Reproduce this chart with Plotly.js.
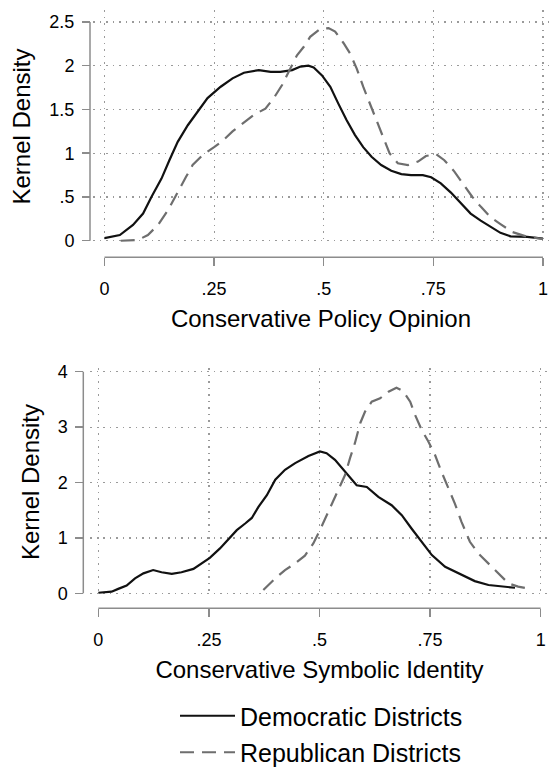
<!DOCTYPE html>
<html>
<head>
<meta charset="utf-8">
<script src="https://cdn.plot.ly/plotly-3.0.1.min.js"></script>
<style>html,body{margin:0;padding:0;background:#fff;}#chart{width:549px;height:767px;}</style>
</head>
<body>
<div id="chart"></div>
<script>
// ---- Data ----
// Top panel: Conservative Policy Opinion
const policyDemX = [0, 0.035, 0.065, 0.088, 0.107, 0.13, 0.148, 0.167, 0.19, 0.2125, 0.235, 0.265, 0.292, 0.318, 0.352, 0.379, 0.401, 0.428, 0.447, 0.465, 0.477, 0.496, 0.515, 0.533, 0.552, 0.571, 0.59, 0.609, 0.631, 0.654, 0.677, 0.699, 0.726, 0.745, 0.767, 0.79, 0.813, 0.835, 0.858, 0.88, 0.903, 0.926, 0.964, 1.0];
const policyDemY = [0.03, 0.065, 0.18, 0.31, 0.50, 0.71, 0.92, 1.13, 1.32, 1.47, 1.63, 1.76, 1.856, 1.92, 1.95, 1.93, 1.93, 1.95, 1.99, 2.0, 1.98, 1.89, 1.76, 1.57, 1.38, 1.21, 1.07, 0.96, 0.865, 0.80, 0.762, 0.75, 0.75, 0.725, 0.656, 0.55, 0.43, 0.31, 0.23, 0.16, 0.09, 0.05, 0.045, 0.025];
const policyRepX = [0.037, 0.077, 0.099, 0.122, 0.145, 0.167, 0.186, 0.201, 0.224, 0.25, 0.269, 0.292, 0.314, 0.341, 0.367, 0.386, 0.405, 0.42, 0.439, 0.455, 0.469, 0.492, 0.511, 0.526, 0.545, 0.56, 0.575, 0.59, 0.605, 0.62, 0.635, 0.65, 0.669, 0.692, 0.715, 0.733, 0.756, 0.775, 0.798, 0.82, 0.839, 0.858, 0.88, 0.903, 0.93, 0.964, 1.0];
const policyRepY = [0.0, 0.01, 0.065, 0.18, 0.35, 0.56, 0.73, 0.865, 0.98, 1.07, 1.14, 1.25, 1.34, 1.44, 1.51, 1.63, 1.78, 1.93, 2.12, 2.22, 2.33, 2.42, 2.43, 2.39, 2.26, 2.14, 1.97, 1.76, 1.57, 1.38, 1.17, 1.0, 0.885, 0.865, 0.905, 0.968, 0.99, 0.92, 0.79, 0.64, 0.50, 0.39, 0.27, 0.19, 0.10, 0.045, 0.02];
// Bottom panel: Conservative Symbolic Identity
const symbolDemX = [0, 0.03, 0.045, 0.064, 0.083, 0.102, 0.124, 0.143, 0.166, 0.188, 0.215, 0.234, 0.252, 0.275, 0.294, 0.313, 0.332, 0.347, 0.362, 0.381, 0.40, 0.422, 0.445, 0.467, 0.475, 0.501, 0.516, 0.535, 0.555, 0.584, 0.607, 0.633, 0.663, 0.686, 0.708, 0.731, 0.754, 0.784, 0.821, 0.851, 0.882, 0.912, 0.942];
const symbolDemY = [0.01, 0.03, 0.08, 0.14, 0.27, 0.36, 0.42, 0.38, 0.35, 0.38, 0.44, 0.54, 0.64, 0.81, 0.98, 1.14, 1.26, 1.36, 1.56, 1.77, 2.05, 2.23, 2.35, 2.44, 2.48, 2.56, 2.53, 2.41, 2.23, 1.95, 1.92, 1.74, 1.59, 1.41, 1.17, 0.93, 0.69, 0.48, 0.34, 0.22, 0.15, 0.12, 0.10];
const symbolRepX = [0.373, 0.40, 0.422, 0.445, 0.467, 0.486, 0.501, 0.52, 0.539, 0.558, 0.569, 0.58, 0.592, 0.603, 0.618, 0.637, 0.656, 0.674, 0.689, 0.705, 0.716, 0.731, 0.746, 0.761, 0.776, 0.791, 0.806, 0.821, 0.84, 0.859, 0.882, 0.904, 0.927, 0.949, 0.976];
const symbolRepY = [0.06, 0.27, 0.42, 0.54, 0.68, 0.90, 1.14, 1.47, 1.80, 2.14, 2.44, 2.71, 3.07, 3.28, 3.46, 3.52, 3.64, 3.71, 3.65, 3.46, 3.22, 2.95, 2.74, 2.50, 2.19, 1.92, 1.62, 1.29, 0.93, 0.72, 0.54, 0.36, 0.18, 0.12, 0.08];

const xTickVals = [0, 0.25, 0.5, 0.75, 1];
const xTickText = ["0", ".25", ".5", ".75", "1"];
const y1TickVals = [0, 0.5, 1, 1.5, 2, 2.5];
const y1TickText = ["0", ".5", "1", "1.5", "2", "2.5"];
const y2TickVals = [0, 1, 2, 3, 4];
const y2TickText = ["0", "1", "2", "3", "4"];
const seriesNames = ["Democratic Districts", "Republican Districts"];
const xTitles = ["Conservative Policy Opinion", "Conservative Symbolic Identity"];
const yTitle = "Kernel Density";

// ---- Styling ----
const W = 549, H = 767;
const FONT = "Liberation Sans, Arial, sans-serif";
const AX = "#8c8c8c";
const demLine = {color: "#111111", width: 2.2};
const repLine = {color: "#6e6e6e", width: 2.2, dash: "14px,8px"};

const px = v => v / W;
const py = v => 1 - v / H;

const traces = [
  {x: policyDemX, y: policyDemY, xaxis: "x", yaxis: "y", mode: "lines", name: seriesNames[0], legendgroup: "d", line: demLine, hoverinfo: "skip"},
  {x: policyRepX, y: policyRepY, xaxis: "x", yaxis: "y", mode: "lines", name: seriesNames[1], legendgroup: "r", line: repLine, hoverinfo: "skip"},
  {x: symbolDemX, y: symbolDemY, xaxis: "x2", yaxis: "y2", mode: "lines", name: seriesNames[0], legendgroup: "d", showlegend: false, line: demLine, hoverinfo: "skip"},
  {x: symbolRepX, y: symbolRepY, xaxis: "x2", yaxis: "y2", mode: "lines", name: seriesNames[1], legendgroup: "r", showlegend: false, line: repLine, hoverinfo: "skip"}
];

const titleFont = {family: FONT, size: 24, color: "#000"};
const common = {
  showline: false, zeroline: false,
  showgrid: true, gridcolor: "#9a9a9a", gridwidth: 1.2, griddash: "1.5px,5px",
  ticks: "outside", ticklen: 8, tickwidth: 1.5, tickcolor: AX,
  tickfont: {family: FONT, size: 18, color: "#000"},
  ticklabeloverflow: "allow",
  tickmode: "array", fixedrange: true, automargin: false
};

const layout = {
  width: W, height: H,
  margin: {l: 0, r: 0, t: 0, b: 0, autoexpand: false},
  paper_bgcolor: "#fff", plot_bgcolor: "#fff",
  font: {family: FONT, color: "#000"},
  showlegend: true,
  legend: {
    x: px(175), y: py(693), xanchor: "left", yanchor: "top",
    font: {family: FONT, size: 25, color: "#000"},
    itemwidth: 55, tracegroupgap: 1, traceorder: "grouped",
    bgcolor: "rgba(0,0,0,0)"
  },
  xaxis: Object.assign({}, common, {
    domain: [px(93), 1], range: [-0.0262, 1.0137],
    anchor: "free", position: py(257.3),
    tickvals: xTickVals, ticktext: xTickText, ticklabelstandoff: 7,
    title: {text: xTitles[0], font: titleFont, standoff: 12}
  }),
  yaxis: Object.assign({}, common, {
    domain: [py(243), py(10)], range: [-0.026, 2.637],
    anchor: "free", position: px(90),
    tickvals: y1TickVals, ticktext: y1TickText, ticklabelstandoff: 4,
    title: {text: yTitle, font: titleFont, standoff: 10}
  }),
  xaxis2: Object.assign({}, common, {
    domain: [px(90), 1], range: [-0.0188, 1.0188],
    anchor: "free", position: py(608.3),
    tickvals: xTickVals, ticktext: xTickText, ticklabelstandoff: 7,
    title: {text: xTitles[1], font: titleFont, standoff: 12}
  }),
  yaxis2: Object.assign({}, common, {
    domain: [py(596), py(368)], range: [-0.0487, 4.067],
    anchor: "free", position: px(83.3),
    tickvals: y2TickVals, ticktext: y2TickText, ticklabelstandoff: 4,
    title: {text: yTitle, font: titleFont, standoff: 10}
  }),
  shapes: [
    // axis lines spanning only the labelled range, as in the reference
    {type: "line", xref: "x", yref: "paper", x0: 0, x1: 1, y0: py(257.3), y1: py(257.3), line: {color: AX, width: 1.5}},
    {type: "line", xref: "paper", yref: "y", x0: px(90), x1: px(90), y0: 0, y1: 2.5, line: {color: AX, width: 1.5}},
    {type: "line", xref: "x2", yref: "paper", x0: 0, x1: 1, y0: py(608.3), y1: py(608.3), line: {color: AX, width: 1.5}},
    {type: "line", xref: "paper", yref: "y2", x0: px(83.3), x1: px(83.3), y0: 0, y1: 4, line: {color: AX, width: 1.5}}
  ]
};

Plotly.newPlot("chart", traces, layout, {staticPlot: true, displayModeBar: false});
</script>
</body>
</html>
